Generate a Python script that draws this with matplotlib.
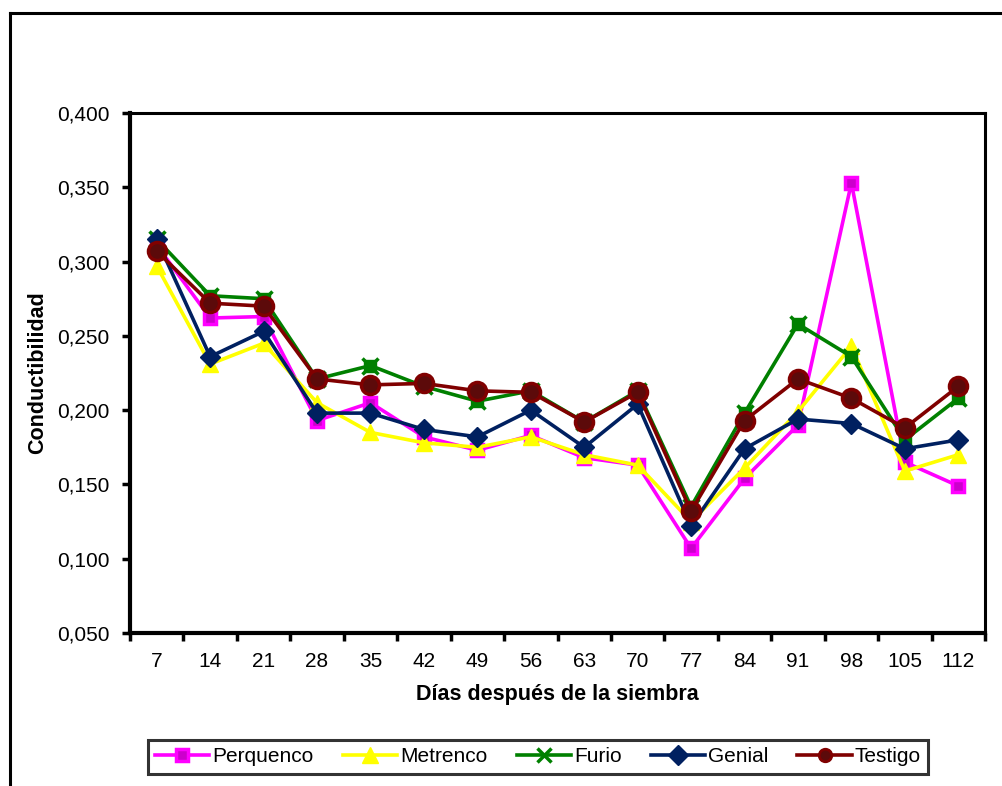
import numpy as np
import matplotlib
matplotlib.use('Agg')
import matplotlib.pyplot as plt
from matplotlib.lines import Line2D
from matplotlib.ticker import FixedLocator, FuncFormatter

plt.rcParams['font.family'] = ['Liberation Sans', 'DejaVu Sans']

# Data
dias = ['7', '14', '21', '28', '35', '42', '49', '56', '63', '70', '77', '84', '91', '98', '105', '112']
perquenco = [0.311, 0.262, 0.263, 0.193, 0.205, 0.182, 0.173, 0.183, 0.168, 0.163, 0.107, 0.154, 0.190, 0.353, 0.165, 0.149]
metrenco = [0.297, 0.231, 0.245, 0.205, 0.185, 0.178, 0.175, 0.182, 0.170, 0.163, 0.125, 0.161, 0.199, 0.243, 0.159, 0.170]
furio = [0.315, 0.277, 0.275, 0.221, 0.230, 0.216, 0.206, 0.213, 0.192, 0.213, 0.135, 0.198, 0.258, 0.236, 0.180, 0.208]
genial = [0.315, 0.236, 0.253, 0.198, 0.198, 0.187, 0.182, 0.200, 0.175, 0.204, 0.122, 0.174, 0.194, 0.191, 0.174, 0.180]
testigo = [0.307, 0.272, 0.270, 0.221, 0.217, 0.218, 0.213, 0.212, 0.192, 0.212, 0.132, 0.193, 0.221, 0.208, 0.188, 0.216]

x = np.arange(len(dias))

fig = plt.figure(figsize=(10.02, 7.86), dpi=100)
ax = fig.add_axes([130 / 1002, 1 - 633 / 786, 855 / 1002, 520 / 786])

lw = 2.6
h1, = ax.plot(x, perquenco, color='#FF00FF', lw=lw, marker='s', ms=9,
              mfc='#CC00CC', mec='#FF00FF', mew=2.5, label='Perquenco')
h2, = ax.plot(x, metrenco, color='#FFFF00', lw=lw, marker='^', ms=12,
              mfc='#FFFF00', mec='#FFFF00', label='Metrenco')
h3, = ax.plot(x, furio, color='#008000', lw=lw, marker='s', ms=9,
              mfc='#008000', mec='#008000', label='Furio')
ax.plot(x, furio, ls='none', marker='x', ms=12, mec='#008000', mew=2.5)
h4, = ax.plot(x, genial, color='#002060', lw=lw, marker='D', ms=10,
              mfc='#002060', mec='#002060', label='Genial')
h5, = ax.plot(x, testigo, color='#800000', lw=lw, marker='o', ms=13,
              mfc='#5C0A0A', mec='#800000', mew=2.5, label='Testigo')

ax.set_xlim(-0.5, len(dias) - 0.5)
ax.set_ylim(0.05, 0.40)
ax.set_yticks(np.arange(0.05, 0.4001, 0.05))
ax.yaxis.set_major_formatter(FuncFormatter(lambda v, p: f'{v:.3f}'.replace('.', ',')))
ax.set_xticks(x)
ax.set_xticklabels(dias)
ax.xaxis.set_minor_locator(FixedLocator(np.arange(-0.5, len(dias), 1.0)))
ax.tick_params(axis='x', which='major', length=0, pad=14, labelsize=15)
ax.tick_params(axis='x', which='minor', length=6, width=2.5, direction='out')
ax.tick_params(axis='y', length=6, width=2.5, direction='out', pad=9, labelsize=15)

for s in ['left', 'bottom']:
    ax.spines[s].set_linewidth(3)
for s in ['top', 'right']:
    ax.spines[s].set_linewidth(2.2)

ax.set_xlabel('Días después de la siembra', fontsize=15.5, fontweight='bold', labelpad=9)
ax.set_ylabel('Conductibilidad', fontsize=15.5, fontweight='bold', labelpad=6)

# legend with the combined furio marker
furio_leg = Line2D([], [], color='#008000', lw=lw, marker='x', ms=10, mec='#008000', mew=2.5)
testigo_leg = Line2D([], [], color='#800000', lw=lw, marker='o', ms=9,
                     mfc='#5C0A0A', mec='#800000', mew=2)
leg = fig.legend([h1, h2, furio_leg, h4, testigo_leg],
                 ['Perquenco', 'Metrenco', 'Furio', 'Genial', 'Testigo'],
                 loc='center', bbox_to_anchor=(538 / 1002, 1 - 757 / 786),
                 ncol=5, frameon=True, fancybox=False, edgecolor='black',
                 fontsize=15, handlelength=2.6, handletextpad=0.15,
                 columnspacing=1.4, borderpad=0.35)
leg.get_frame().set_linewidth(2.2)

# outer chart frame (top and left edges)
fig.add_artist(Line2D([10 / 1002, 10 / 1002], [0, 1 - 13 / 786], color='black', lw=2.2,
                      transform=fig.transFigure))
fig.add_artist(Line2D([10 / 1002, 1], [1 - 13 / 786, 1 - 13 / 786], color='black', lw=2.2,
                      transform=fig.transFigure))

fig.savefig('out.png', dpi=100)
